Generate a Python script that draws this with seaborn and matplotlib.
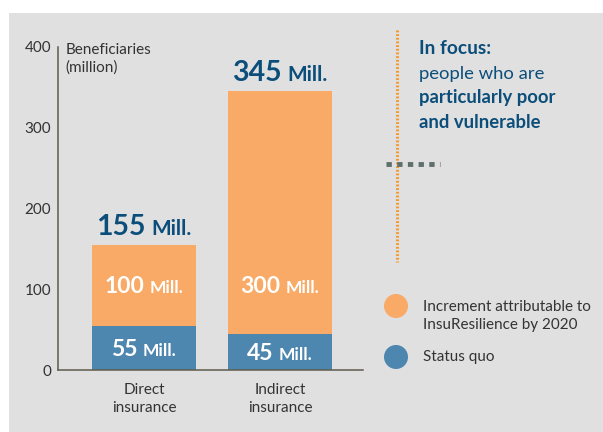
import matplotlib
matplotlib.use("Agg")
import matplotlib.pyplot as plt
import matplotlib.transforms as mtransforms
from matplotlib.patches import Rectangle, Circle
import seaborn as sns
import pandas as pd

# ---- data ----
categories = ["Direct\ninsurance", "Indirect\ninsurance"]
status_quo = [55, 45]
increment = [100, 300]
totals = [s + i for s, i in zip(status_quo, increment)]
yticks = [0, 100, 200, 300, 400]
legend_labels = ["Increment attributable to\nInsuResilience by 2020", "Status quo"]
unit = "Mill."

ORANGE = "#F8AA66"
BLUE = "#4D86AE"
DARK = "#0C4E7A"
BG = "#E0E0E0"
TXT = "#333333"
AXC = "#5E5C4C"

sns.set_theme(style="white")
plt.rcParams["font.family"] = ["Lato", "DejaVu Sans"]

W, H = 603, 432
fig = plt.figure(figsize=(W / 100, H / 100), dpi=100)

# overlay in pixel coordinates (behind the chart)
ov = fig.add_axes([0, 0, 1, 1])
ov.set_xlim(0, W)
ov.set_ylim(H, 0)
ov.axis("off")
ov.set_zorder(-1)
ov.add_patch(Rectangle((9, 13), W - 9, H - 13, facecolor=BG, edgecolor="none"))

# chart axes
x0, x1 = 58, 363
y0, y400 = 370, 47
ax = fig.add_axes([x0 / W, (H - y0) / H, (x1 - x0) / W, (y0 - y400) / H])
ax.patch.set_alpha(0)

df = pd.DataFrame({"cat": categories, "total": totals, "status": status_quo})
sns.barplot(data=df, x="cat", y="total", color=ORANGE, width=0.765,
            saturation=1, ax=ax, edgecolor="none", linewidth=0)
sns.barplot(data=df, x="cat", y="status", color=BLUE, width=0.765,
            saturation=1, ax=ax, edgecolor="none", linewidth=0)

ax.set_xlim(-0.632, 1.61)
ax.set_ylim(0, 400)
ax.set_yticks(yticks)
ax.set_yticklabels([str(t) for t in yticks])
ax.set_xlabel("")
ax.set_ylabel("")
for s in ["top", "right"]:
    ax.spines[s].set_visible(False)
for s in ["left", "bottom"]:
    ax.spines[s].set_color(AXC)
    ax.spines[s].set_linewidth(1.1)
ax.tick_params(axis="both", length=0, labelsize=11, colors=TXT)
ax.tick_params(axis="y", pad=5)
ax.tick_params(axis="x", pad=9)
for lab in ax.get_xticklabels():
    lab.set_linespacing(1.4)
ax.grid(False)

ax.text(0.025, 1.012, "Beneficiaries\n(million)", transform=ax.transAxes,
        ha="left", va="top", fontsize=11, color=TXT, linespacing=1.3)

fig.canvas.draw()
renderer = fig.canvas.get_renderer()


def two_part(xd, yd, num, size_num, size_unit, color, dy_px, gap=5):
    t1 = ax.text(xd, yd, num, fontsize=size_num, fontweight="bold", color=color,
                 ha="left", va="baseline")
    t2 = ax.text(xd, yd, unit, fontsize=size_unit, fontweight="bold", color=color,
                 ha="left", va="baseline")
    w1 = t1.get_window_extent(renderer).width
    w2 = t2.get_window_extent(renderer).width
    tot = w1 + gap + w2
    t1.set_transform(mtransforms.offset_copy(ax.transData, fig, x=-tot / 2, y=dy_px, units="dots"))
    t2.set_transform(mtransforms.offset_copy(ax.transData, fig, x=-tot / 2 + w1 + gap, y=dy_px, units="dots"))


inc_label_y = status_quo[0] + increment[0] / 2
for i in range(len(categories)):
    two_part(i, totals[i], str(totals[i]), 20.5, 15, DARK, 10, gap=6)
    two_part(i, inc_label_y, str(increment[i]), 16.5, 12.5, "white", -8)
    two_part(i, status_quo[i] / 2, str(status_quo[i]), 16.5, 12.5, "white", -8)

# focus annotation
ov.plot([397, 397], [30, 262], color="#F39A2E", lw=2.2, ls=(0, (0.6, 0.6)),
        solid_capstyle="butt")
ov.plot([386, 440], [164, 164], color="#5F706C", lw=3.5, ls=(0, (1.1, 1.1)),
        dash_capstyle="butt")
ov.text(419, 48, "In focus:", fontsize=13.8, fontweight="bold", color=DARK, va="center")
ov.text(419, 74, "people who are", fontsize=13.3, color=DARK, va="center")
ov.text(419, 98, "particularly poor", fontsize=13.3, fontweight="bold", color=DARK, va="center")
ov.text(419, 122, "and vulnerable", fontsize=13.3, fontweight="bold", color=DARK, va="center")

# legend
ov.add_patch(Circle((396, 306), 12, facecolor=ORANGE, edgecolor="none"))
ov.add_patch(Circle((396, 357), 12, facecolor=BLUE, edgecolor="none"))
ov.text(423, 316, legend_labels[0], fontsize=11, color=TXT, va="center", linespacing=1.4)
ov.text(423, 357, legend_labels[1], fontsize=11, color=TXT, va="center")

fig.savefig("out.png", dpi=100)
